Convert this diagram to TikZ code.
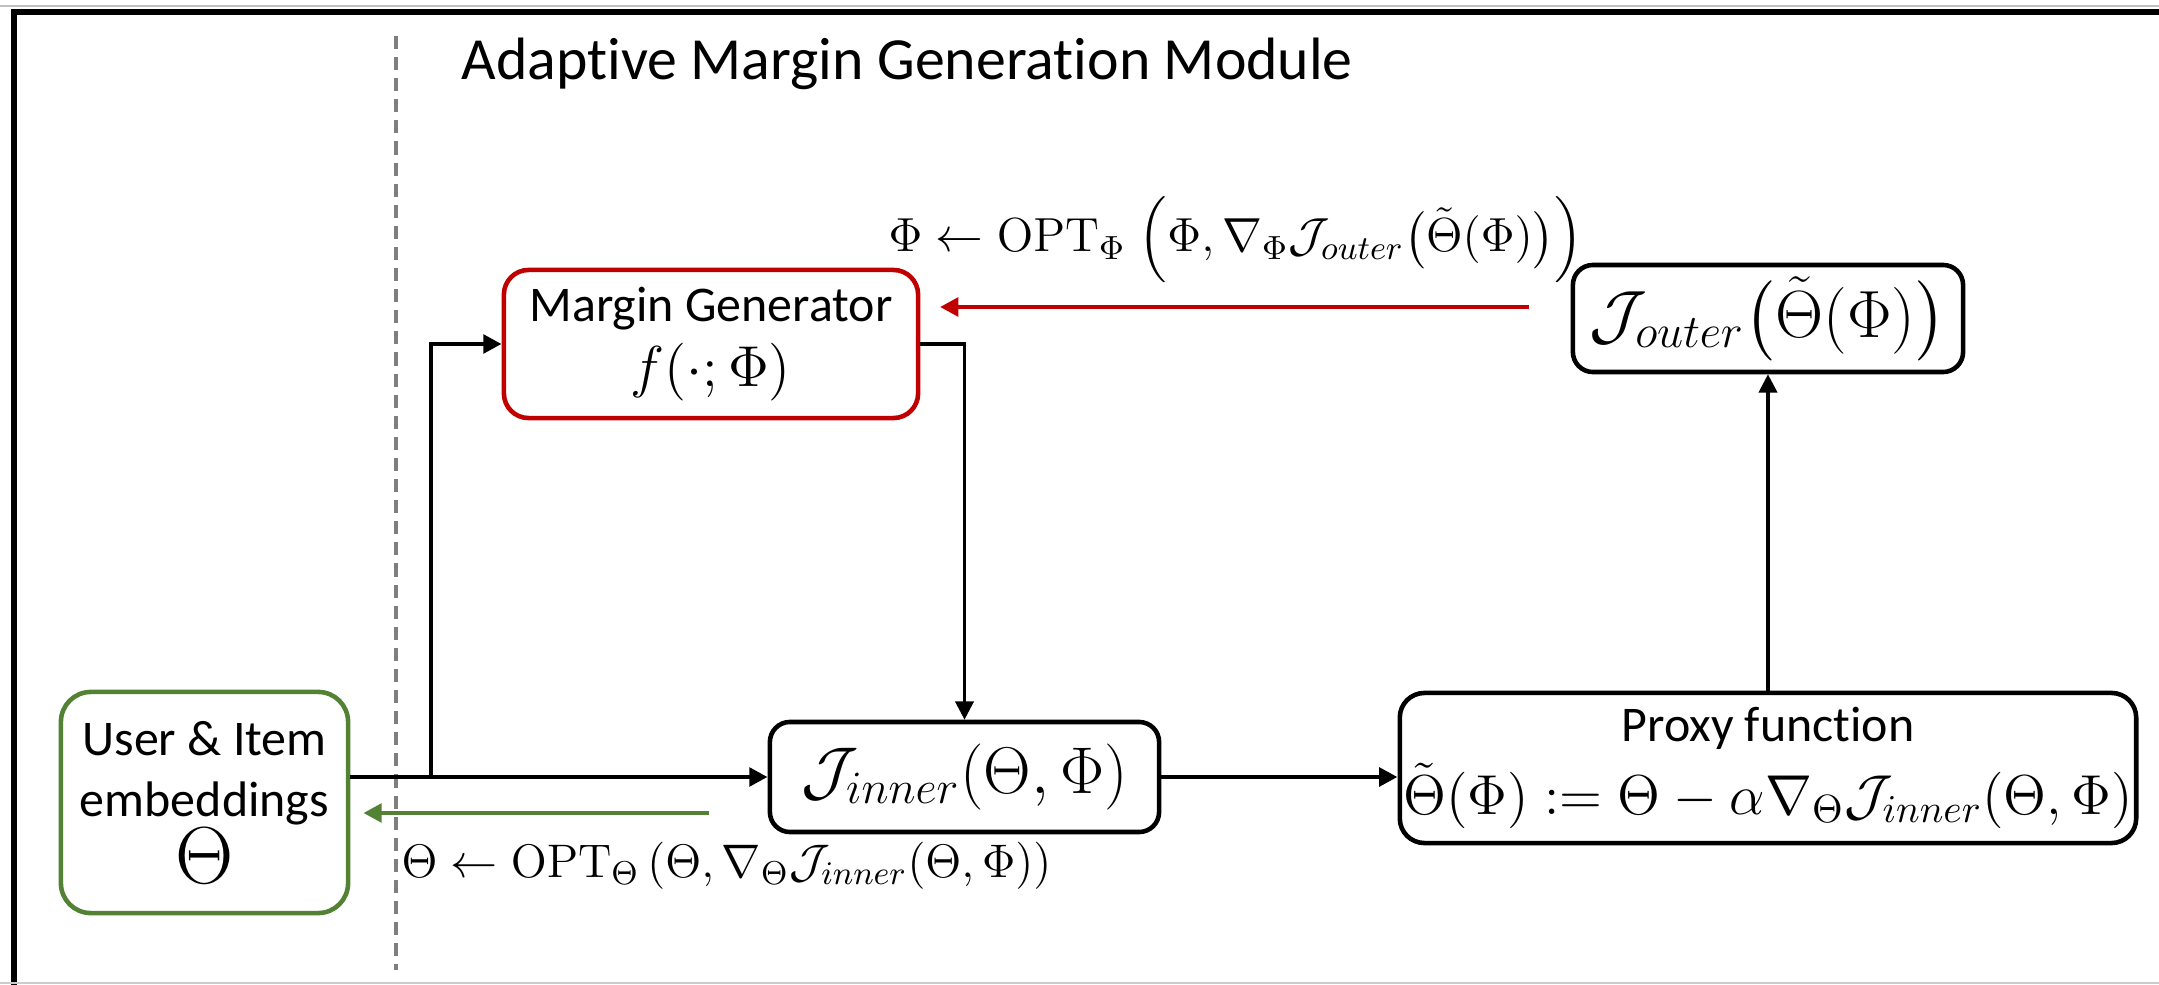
\RequirePackage{fix-cm}
\documentclass[tikz,border=0pt]{standalone}
\usepackage{amsmath,amssymb}
\usepackage[no-math]{fontspec}
\setmainfont{Carlito}[Ligatures=NoCommon]
\usetikzlibrary{arrows.meta}

\definecolor{mgred}{HTML}{C00000}
\definecolor{embgreen}{HTML}{548235}
\definecolor{splitgray}{HTML}{7F7F7F}

\tikzset{
  boxbase/.style={draw, line width=1.3pt, inner sep=0pt, align=center},
  blackbox/.style={boxbase, rounded corners=5.7pt},
  redbox/.style={boxbase, draw=mgred, rounded corners=7pt},
  greenbox/.style={boxbase, draw=embgreen, rounded corners=8.5pt},
  tip/.style={-{Triangle[length=5.2pt,width=5.2pt]}},
  flowthick/.style={tip, line width=1.3pt},
  flowthin/.style={tip, line width=0.9pt},
  update/.style={tip, line width=1.4pt},
  sans/.style={font=\fontsize{14.2}{17.6}\selectfont},
}

\begin{document}
\begin{tikzpicture}[x=0.01cm, y=-0.01cm]
  \useasboundingbox (0,0) rectangle (2159,985);

  % outer frame
  \draw[black!25, line width=0.5pt] (0,6) -- (2159,6);
  \draw[line width=1.7pt] (14,985) -- (14,12) -- (2159,12);
  \draw[black!20, line width=0.6pt] (0,983) -- (2159,983);

  % separator between the embeddings and the module
  \draw[splitgray, line width=1.1pt, dash pattern=on 3.7pt off 2.3pt] (396,36) -- (396,970);

  % title
  \node[anchor=base west, inner sep=0pt, font=\fontsize{17}{20}\selectfont] (title) at (461,80)
    {Adaptive Margin Generation Module};

  % blocks
  \node[greenbox, minimum width=2.87cm, minimum height=2.21cm, sans] (user) at (204.5,802.5)
    {User \& Item\\[-0.3pt] embeddings\\[0pt] {\fontsize{23}{23}\selectfont$\Theta$}};

  \node[redbox, minimum width=4.14cm, minimum height=1.48cm, sans] (mg) at (711,344)
    {Margin Generator\\[1pt] {\fontsize{16.4}{18}\selectfont$f(\cdot;\Phi)$}};

  \node[blackbox, minimum width=3.89cm, minimum height=1.10cm, font=\fontsize{18.8}{22}\selectfont] (jin) at (964.5,777)
    {$\mathcal{J}_{inner}(\Theta,\Phi)$};

  \node[blackbox, rounded corners=7pt, minimum width=7.36cm, minimum height=1.50cm, sans] (proxy) at (1768,768)
    {Proxy function\\[3pt] {\fontsize{16}{18}\selectfont$\tilde{\Theta}(\Phi) := \Theta - \alpha\nabla_{\Theta}\mathcal{J}_{inner}(\Theta,\Phi)$}};

  \node[blackbox, minimum width=3.9cm, minimum height=1.07cm, font=\fontsize{19}{22}\selectfont] (outer) at (1768,318.5)
    {$\mathcal{J}_{outer}\bigl(\tilde{\Theta}(\Phi)\bigr)$};

  % update rules
  \node[anchor=west, inner sep=0pt, font=\fontsize{13.6}{16}\selectfont] (philab) at (888,240)
    {$\Phi \leftarrow \mathrm{OPT}_{\Phi}\;\Bigl(\Phi, \nabla_{\Phi}\mathcal{J}_{outer}\bigl(\tilde{\Theta}(\Phi)\bigr)\Bigr)$};
  \node[anchor=west, inner sep=0pt, font=\fontsize{13.4}{16}\selectfont] (thetalab) at (401,866)
    {$\Theta \leftarrow \mathrm{OPT}_{\Theta}\left(\Theta, \nabla_{\Theta}\mathcal{J}_{inner}(\Theta,\Phi)\right)$};

  % forward flow
  \coordinate (branch) at (431,777);
  \draw[flowthick] (user.east |- jin.west) -- (jin.west);
  \draw[flowthick] (branch) |- (mg.west);
  \draw[flowthin] (mg.east) -| (jin.north);
  \draw[flowthick] (jin.east) -- (proxy.west |- jin.east);
  \draw[flowthin] (proxy.north) -- (outer.south);

  % gradient updates
  \coordinate (phifrom) at (1529,307);
  \coordinate (phito) at (940,307);
  \draw[update, mgred] (phifrom) -- (phito);
  \coordinate (thetafrom) at (709,813);
  \draw[update, embgreen, shorten >=3.7pt] (thetafrom) -- (thetafrom -| user.east);
\end{tikzpicture}
\end{document}
